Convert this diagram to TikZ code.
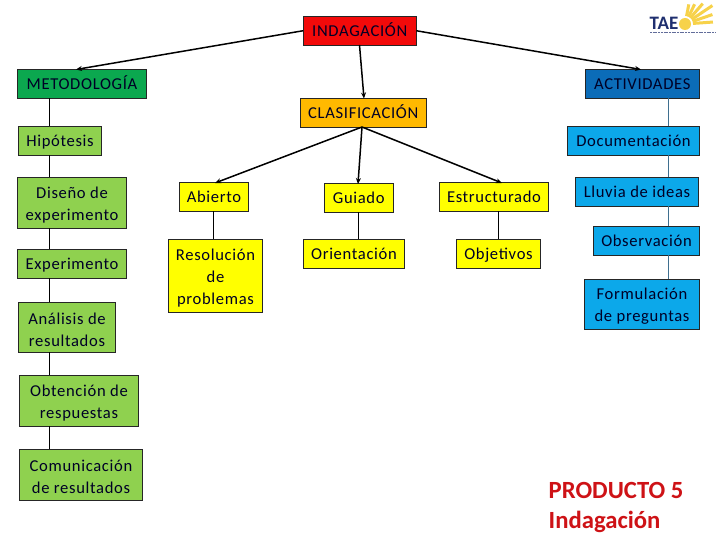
\documentclass[tikz,border=0pt]{standalone}
\usepackage{fontspec}
\setmainfont[LetterSpace=4]{Carlito}
\newfontfamily\plainfont{Carlito}
\usetikzlibrary{arrows.meta}
\definecolor{cred}{HTML}{F20A0A}
\definecolor{cgreen}{HTML}{0BA84F}
\definecolor{clgreen}{HTML}{8FD14F}
\definecolor{cyell}{HTML}{FFFF00}
\definecolor{corange}{HTML}{FFB900}
\definecolor{cblue}{HTML}{0B6CB8}
\definecolor{clblue}{HTML}{0CA8EA}
\definecolor{ctrunk}{HTML}{3F6F8F}
\definecolor{cnavy}{HTML}{1F2F6F}
\definecolor{csun}{HTML}{F7D24A}
\definecolor{cprod}{HTML}{CE1216}
\tikzset{
  boxbase/.style={draw=black!85,line width=0.9pt,inner sep=0pt,align=center,font=\fontsize{16.6}{21.7}\selectfont,text=black!85!blue},
  redbox/.style={boxbase,fill=cred},
  greenbox/.style={boxbase,fill=cgreen},
  lgreenbox/.style={boxbase,fill=clgreen},
  yellbox/.style={boxbase,fill=cyell},
  orangebox/.style={boxbase,fill=corange},
  bluebox/.style={boxbase,fill=cblue},
  lbluebox/.style={boxbase,fill=clblue},
  thinlink/.style={line width=0.9pt,draw=black},
  bluelink/.style={line width=0.9pt,draw=ctrunk},
  mainarrow/.style={line width=1.5pt,draw=black,-{Stealth[length=6pt,width=5pt]}},
  prodtext/.style={font=\plainfont\bfseries\fontsize{24.7}{30}\selectfont,text=cprod,anchor=north west,align=left,inner sep=0pt},
}
\newcommand{\bx}[7]{\node[#6,minimum width=#4pt-#2pt,minimum height=#5pt-#3pt] (#1) at ({(#2+#4)/2},{(#3+#5)/2}) {\rule[-5pt]{0pt}{21pt}#7};}
\begin{document}
\begin{tikzpicture}[x=1pt,y=-1pt]
\useasboundingbox (0,0) rectangle (720,540);
\fill[white] (0,0) rectangle (720,540);
\coordinate (tl) at (49.5,0);
\coordinate (tr) at (668.5,0);
\bx{ind}{303.5}{16.5}{416}{45}{redbox}{INDAGACIÓN}
\bx{met}{17.5}{69.5}{146.5}{98}{greenbox}{METODOLOGÍA}
\bx{act}{585.5}{69.5}{699}{98}{bluebox}{ACTIVIDADES}
\bx{cla}{300.5}{98.5}{426}{127}{orangebox}{CLASIFICACIÓN}
\bx{hip}{18.5}{126.5}{101.5}{155}{lgreenbox}{Hipótesis}
\bx{doc}{567.5}{126.5}{699.5}{155}{lbluebox}{Documentación}
\bx{dis}{17.5}{177.5}{126.5}{228}{lgreenbox}{Diseño de\\experimento}
\bx{abi}{179.5}{182.5}{248.5}{211}{yellbox}{Abierto}
\bx{gui}{324.5}{183.5}{393}{212}{yellbox}{Guiado}
\bx{est}{439.5}{182.5}{548.5}{211}{yellbox}{Estructurado}
\bx{llu}{575.5}{177.5}{698.5}{206}{lbluebox}{Lluvia de ideas}
\bx{exp}{17.5}{249.5}{126.5}{278}{lgreenbox}{Experimento}
\bx{res}{168.5}{239.5}{262.5}{312}{yellbox}{Resolución\\de\\problemas}
\bx{ori}{303.5}{239.5}{404.5}{268}{yellbox}{Orientación}
\bx{obj}{456.5}{239.5}{540.5}{268}{yellbox}{Objetivos}
\bx{obs}{593.5}{226.5}{699.5}{255}{lbluebox}{Observación}
\bx{for}{584.5}{279.5}{699.5}{329}{lbluebox}{Formulación\\de preguntas}
\bx{ana}{18.5}{302.5}{115.5}{352}{lgreenbox}{Análisis de\\resultados}
\bx{obt}{19.5}{375.5}{138.5}{426}{lgreenbox}{Obtención de\\respuestas}
\bx{com}{19.5}{449.5}{142.5}{500}{lgreenbox}{Comunicación\\de resultados}
\foreach \a/\b in {met/hip,hip/dis,dis/exp,exp/ana,ana/obt,obt/com}
  \draw[thinlink] (\a.south -| tl) -- (\b.north -| tl);
\foreach \a/\b in {act/doc,doc/llu,llu/obs,obs/for}
  \draw[bluelink] (\a.south -| tr) -- (\b.north -| tr);
\coordinate (ya) at (213.5,0);
\coordinate (yg) at (358,0);
\coordinate (ye) at (498.5,0);
\draw[thinlink] (abi.south -| ya) -- (res.north -| ya);
\draw[thinlink] (gui.south -| yg) -- (ori.north -| yg);
\draw[thinlink] (est.south -| ye) -- (obj.north -| ye);
\coordinate (cs) at (362,127);
\coordinate (ms) at (359.5,45);
\coordinate (at1) at (76,69.5);
\coordinate (at2) at (641,69.5);
\coordinate (at3) at (364,98.5);
\coordinate (at4) at (215,183);
\coordinate (at5) at (358,184);
\coordinate (at6) at (502,183);
\draw[mainarrow] (ind.west) -- (at1);
\draw[mainarrow] (ind.east) -- (at2);
\draw[mainarrow] (ms) -- (at3);
\draw[mainarrow] (cs) -- (at4);
\draw[mainarrow] (cs) -- (at5);
\draw[mainarrow] (cs) -- (at6);
% logo
\foreach \ang/\len in {4/28,19/29,34/33,49/27,64/22,79/20}
  \draw[csun,line width=3pt] ({685+8*cos(\ang)},{24-8*sin(\ang)}) -- ({685+\len*cos(\ang)},{24-\len*sin(\ang)});
\fill[csun] (685,24) circle (6);
\node[font=\plainfont\bfseries\fontsize{19}{19}\selectfont,text=cnavy,inner sep=0pt] (tae) at (664,23) {TAE};
\coordinate (lgA) at (650,32.5);
\coordinate (lgB) at (716,32.5);
\draw[cnavy!70,line width=1.2pt,dash pattern=on 2pt off 0.7pt] (lgA) -- (lgB);
\node[prodtext] (prod) at (548.5,482) {PRODUCTO 5\\Indagación};
\end{tikzpicture}
\end{document}
